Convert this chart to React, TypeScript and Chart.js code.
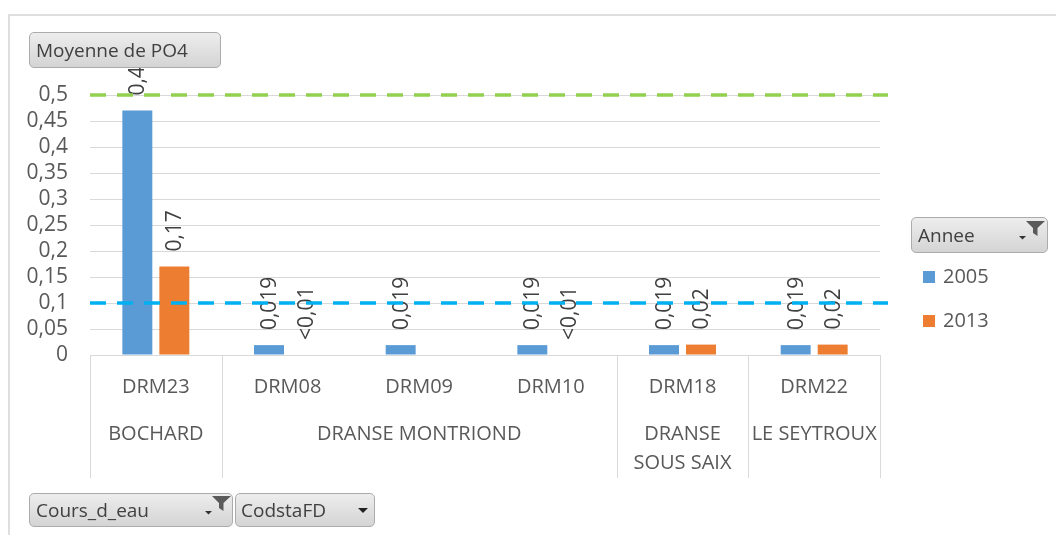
import React, { useEffect, useRef } from 'react';
import { Chart, registerables } from 'chart.js';

Chart.register(...registerables);

// ---- data ----
const categories = ['DRM23', 'DRM08', 'DRM09', 'DRM10', 'DRM18', 'DRM22'];
const rivers = ['BOCHARD', 'DRANSE MONTRIOND', 'DRANSE MONTRIOND', 'DRANSE MONTRIOND', 'DRANSE SOUS SAIX', 'LE SEYTROUX'];
const seriesNames = ['2005', '2013'];
const values2005 = [0.47, 0.019, 0.019, 0.019, 0.019, 0.019];
const values2013 = [0.17, 0, null, 0, 0.02, 0.02];
const labels2005 = ['0,47', '0,019', '0,019', '0,019', '0,019', '0,019'];
const labels2013 = ['0,17', '<0,01', null, '<0,01', '0,02', '0,02'];
const seriesColors = ['#5B9BD5', '#ED7D31'];
const thresholdValues = [0.5, 0.1];
const thresholdColors = ['#92D050', '#00B0F0'];
const yMin = 0;
const yMax = 0.5;
const yStep = 0.05;

const FONT = '"Open Sans", "DejaVu Sans", sans-serif';
const TEXT = '#595959';
const GRID = '#d9d9d9';

const fmt = (v: number) => String(+(+v).toFixed(3)).replace('.', ',');

function wrapText(ctx: CanvasRenderingContext2D, text: string, maxW: number): string[] {
  const words = text.split(' ');
  const lines: string[] = [];
  let cur = '';
  for (const w of words) {
    const test = cur ? cur + ' ' + w : w;
    if (ctx.measureText(test).width > maxW && cur) {
      lines.push(cur);
      cur = w;
    } else cur = test;
  }
  if (cur) lines.push(cur);
  return lines;
}

const overlayPlugin = {
  id: 'pivotOverlay',
  afterDatasetsDraw(chart: any) {
    const { ctx, chartArea, scales } = chart;
    const y = scales.y;
    const labelSets = [labels2005, labels2013];
    ctx.save();
    ctx.font = `21px ${FONT}`;
    ctx.fillStyle = '#404040';
    chart.data.datasets.forEach((ds: any, di: number) => {
      const meta = chart.getDatasetMeta(di);
      meta.data.forEach((bar: any, i: number) => {
        const t = labelSets[di][i];
        if (!t) return;
        const top = ds.data[i] == null ? y.getPixelForValue(0) : bar.y;
        ctx.save();
        ctx.translate(bar.x + 1, top - 15);
        ctx.rotate(-Math.PI / 2);
        ctx.textAlign = 'left';
        ctx.textBaseline = 'middle';
        ctx.fillText(t, 0, 0);
        ctx.restore();
      });
    });
    ctx.restore();
    ctx.save();
    thresholdValues.forEach((v, k) => {
      const py = y.getPixelForValue(v);
      ctx.strokeStyle = thresholdColors[k];
      ctx.lineWidth = 3.5;
      ctx.setLineDash([16, 11]);
      ctx.beginPath();
      ctx.moveTo(chartArea.left, py);
      ctx.lineTo(chartArea.right + 8, py);
      ctx.stroke();
    });
    ctx.restore();
  },
  afterDraw(chart: any) {
    const { ctx, chartArea, scales } = chart;
    const x = scales.x;
    const bottom = chartArea.bottom;
    const catW = (chartArea.right - chartArea.left) / categories.length;
    ctx.save();
    const groups: { name: string; start: number; end: number }[] = [];
    rivers.forEach((r, i) => {
      const g = groups[groups.length - 1];
      if (g && g.name === r) g.end = i;
      else groups.push({ name: r, start: i, end: i });
    });
    ctx.strokeStyle = GRID;
    ctx.lineWidth = 1;
    const bounds = [0, ...groups.map((g) => g.end + 1)];
    bounds.forEach((b) => {
      const px = Math.round(x.getPixelForValue(b - 0.5)) + 0.5;
      ctx.beginPath();
      ctx.moveTo(px, bottom);
      ctx.lineTo(px, bottom + 123);
      ctx.stroke();
    });
    ctx.fillStyle = TEXT;
    ctx.font = `20px ${FONT}`;
    ctx.textAlign = 'center';
    ctx.textBaseline = 'middle';
    categories.forEach((c, i) => {
      ctx.fillText(c, x.getPixelForValue(i), bottom + 32);
    });
    groups.forEach((g) => {
      const cx = (x.getPixelForValue(g.start) + x.getPixelForValue(g.end)) / 2;
      const lines = wrapText(ctx, g.name, catW * (g.end - g.start + 1) - 2);
      lines.forEach((ln, li) => ctx.fillText(ln, cx, bottom + 79 + li * 29));
    });
    const lx = chartArea.right + 43;
    chart.data.datasets.forEach((ds: any, di: number) => {
      const cy = 277 + di * 44;
      ctx.fillStyle = ds.backgroundColor;
      ctx.fillRect(lx, cy - 6, 12, 12);
      ctx.fillStyle = TEXT;
      ctx.textAlign = 'left';
      ctx.fillText(ds.label, lx + 20, cy);
    });
    ctx.restore();
  },
};

const btnBase: React.CSSProperties = {
  position: 'absolute',
  boxSizing: 'border-box',
  border: '1px solid #ababab',
  borderRadius: 5,
  background: 'linear-gradient(#ededed, #d4d4d4)',
  color: '#404040',
  fontFamily: FONT,
  fontSize: 19,
  paddingLeft: 6,
  whiteSpace: 'nowrap',
  display: 'flex',
  alignItems: 'center',
};

const Funnel = ({ left, top }: { left: number; top: number }) => (
  <svg style={{ position: 'absolute', left, top }} width="28" height="22" viewBox="0 0 28 22">
    <path d="M8 1 H27 L19.5 8 V16 L15 13 V8 Z" fill="#5a5a5a" />
    <path d="M1 16 H8 L4.5 19.5 Z" fill="#333" />
  </svg>
);

export default function App() {
  const ref = useRef<HTMLCanvasElement>(null);
  useEffect(() => {
    if (!ref.current) return;
    const chart = new Chart(ref.current, {
      type: 'bar',
      data: {
        labels: categories,
        datasets: [
          { label: seriesNames[0], data: values2005, backgroundColor: seriesColors[0], borderWidth: 0, categoryPercentage: 0.562, barPercentage: 0.81 },
          { label: seriesNames[1], data: values2013 as any, backgroundColor: seriesColors[1], borderWidth: 0, categoryPercentage: 0.562, barPercentage: 0.81 },
        ],
      },
      options: {
        responsive: false,
        animation: false,
        layout: { padding: { left: 0, top: 95, right: 176, bottom: 180 } },
        plugins: { legend: { display: false }, tooltip: { enabled: false } },
        scales: {
          x: { display: false },
          y: {
            min: yMin,
            max: yMax,
            afterFit: (s: any) => { s.width = 90; },
            border: { display: false },
            grid: { color: GRID, drawTicks: false },
            ticks: {
              stepSize: yStep,
              autoSkip: false,
              padding: 22,
              color: TEXT,
              font: { family: FONT, size: 21 },
              callback: (v: any) => fmt(v),
            },
          },
        },
      },
      plugins: [overlayPlugin],
    });
    return () => chart.destroy();
  }, []);

  return (
    <div style={{ position: 'fixed', left: 0, top: 0, width: 1056, height: 535, background: '#fff', overflow: 'hidden' }}>
      <div style={{ position: 'absolute', left: 8, top: 14, right: 0, bottom: -4, borderLeft: '2px solid #dedede', borderTop: '2px solid #dedede' }} />
      <canvas ref={ref} width={1056} height={535} style={{ position: 'absolute', left: 0, top: 0, width: 1056, height: 535 }} />
      <div style={{ ...btnBase, left: 29, top: 32, width: 192, height: 36 }}>Moyenne de PO4</div>
      <div style={{ ...btnBase, left: 911, top: 217, width: 137, height: 36 }}>
        Annee
        <Funnel left={106} top={2} />
      </div>
      <div style={{ ...btnBase, left: 29, top: 493, width: 204, height: 34 }}>
        Cours_d_eau
        <Funnel left={174} top={1} />
      </div>
      <div style={{ ...btnBase, left: 235, top: 493, width: 140, height: 34, paddingLeft: 5 }}>
        CodstaFD
        <svg style={{ position: 'absolute', left: 122, top: 14 }} width="10" height="6" viewBox="0 0 10 6">
          <path d="M0 0 H10 L5 5 Z" fill="#222" />
        </svg>
      </div>
    </div>
  );
}
